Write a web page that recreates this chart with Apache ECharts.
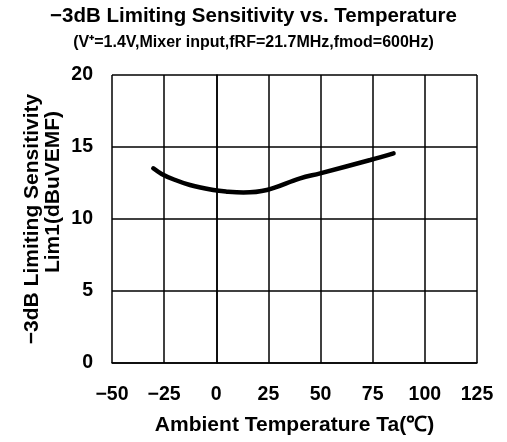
<!DOCTYPE html>
<html>
<head>
<meta charset="utf-8">
<script src="https://cdn.jsdelivr.net/npm/echarts@6/dist/echarts.min.js"></script>
<style>
  html, body { margin: 0; padding: 0; background: #fff; }
  #chart { width: 507px; height: 442px; }
</style>
</head>
<body>
<div id="chart"></div>
<script>
// 温度 (°C) と -3dB リミッティング感度 (dBuVEMF)
const temps = [-30.2, -26.2, -20.6, -12.6, -1.4, 5.0, 13.0, 24.2, 40.2, 49.8, 73.8, 85];
const sens = [13.52, 13.13, 12.76, 12.36, 12.01, 11.9, 11.84, 12.01, 12.82, 13.17, 14.1, 14.56];
const xTicks = [-50, -25, 0, 25, 50, 75, 100, 125];
const yTicks = [0, 5, 10, 15, 20];

const font = '"Liberation Sans", Arial, sans-serif';
const chart = echarts.init(document.getElementById('chart'));

const option = {
  animation: false,
  backgroundColor: '#fff',
  title: {
    text: '\u22123dB Limiting Sensitivity vs. Temperature',
    subtext: '(V\u207A=1.4V,Mixer input,fRF=21.7MHz,fmod=600Hz)',
    left: 'center',
    top: 1,
    itemGap: 8,
    textStyle: { fontFamily: font, fontSize: 20.5, fontWeight: 'bold', color: '#000' },
    subtextStyle: { fontFamily: font, fontSize: 16, fontWeight: 'bold', color: '#000' }
  },
  grid: { left: 112, right: 30, top: 75, bottom: 79 },
  xAxis: {
    type: 'value',
    min: xTicks[0],
    max: xTicks[xTicks.length - 1],
    interval: 25,
    name: 'Ambient Temperature Ta(\u2103)',
    nameLocation: 'middle',
    nameGap: 52,
    nameTextStyle: { fontFamily: font, fontSize: 21, fontWeight: 'bold', color: '#000' },
    axisLine: { lineStyle: { color: '#000', width: 1.5 } },
    axisTick: { show: false },
    axisLabel: {
      fontFamily: font, fontSize: 19.5, fontWeight: 'bold', color: '#000', margin: 22,
      formatter: v => String(v).replace('-', '\u2212')
    },
    splitLine: { lineStyle: { color: '#000', width: 1.5 } }
  },
  yAxis: {
    type: 'value',
    min: yTicks[0],
    max: yTicks[yTicks.length - 1],
    interval: 5,
    name: '\u22123dB Limiting Sensitivity',
    nameLocation: 'middle',
    nameGap: 69,
    nameRotate: 90,
    nameTextStyle: { fontFamily: font, fontSize: 21, fontWeight: 'bold', color: '#000' },
    axisLine: { lineStyle: { color: '#000', width: 1.5 } },
    axisTick: { show: false },
    axisLabel: { fontFamily: font, fontSize: 19.5, fontWeight: 'bold', color: '#000', margin: 19 },
    splitLine: { lineStyle: { color: '#000', width: 1.5 } }
  },
  graphic: [{
    type: 'text',
    x: 53,
    y: 192,
    rotation: Math.PI / 2,
    style: {
      text: 'Lim1(dBuVEMF)',
      font: 'bold 21px ' + font,
      fill: '#000',
      align: 'center',
      verticalAlign: 'middle'
    }
  }],
  series: [{
    type: 'line',
    data: temps.map((t, i) => [t, sens[i]]),
    smooth: 0.4,
    showSymbol: false,
    lineStyle: { color: '#000', width: 4.5, cap: 'round' }
  }]
};

chart.setOption(option);
</script>
</body>
</html>
